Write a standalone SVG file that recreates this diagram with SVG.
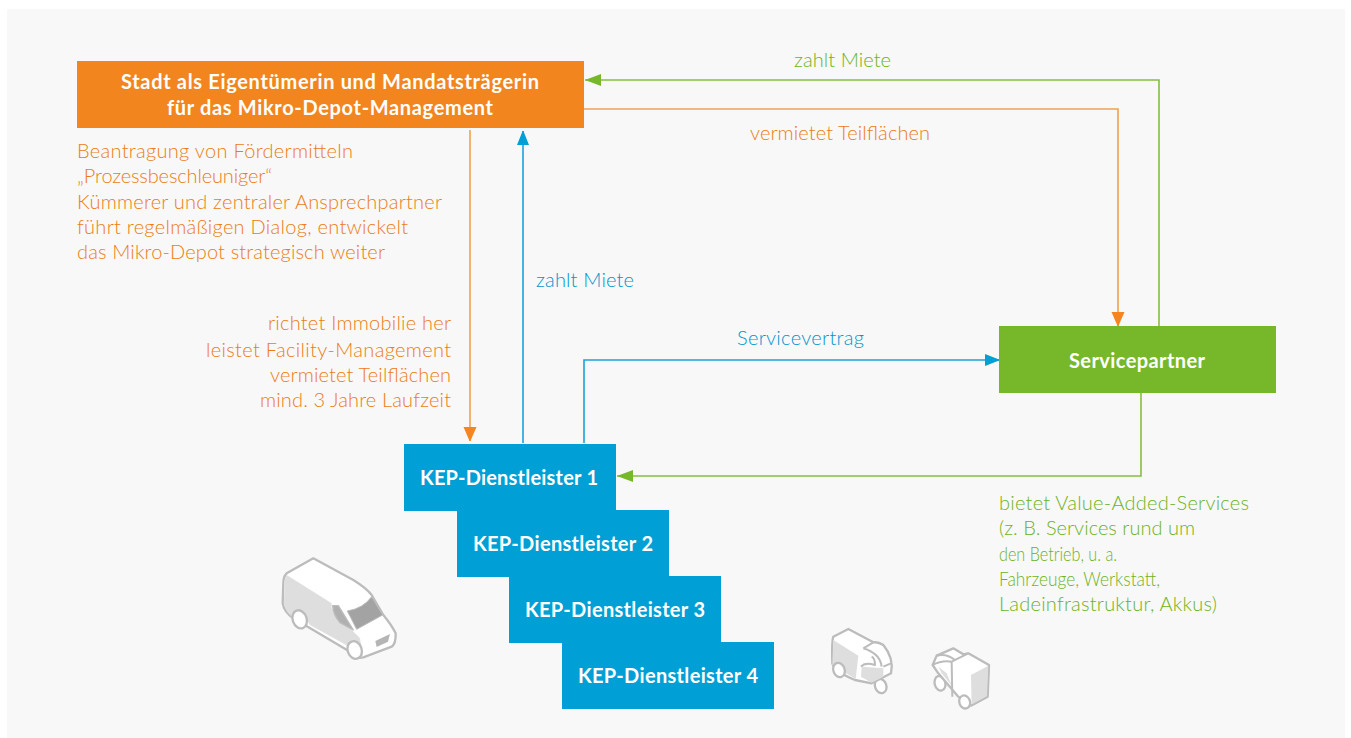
<svg xmlns="http://www.w3.org/2000/svg" width="1351" height="738" viewBox="0 0 1351 738">
<style>
text{font-family:"Lato","Open Sans","Liberation Sans",sans-serif;font-size:20px;font-weight:300}
text.h{fill:#fff;font-weight:700;text-anchor:middle}
.o{fill:#ec7c14}.b{fill:#0095cf}.g{fill:#6db320}
.conn{fill:none;stroke-width:1.6}
.co{stroke:#f2a050}.cb{stroke:#1ba3d6}.cg{stroke:#84bf41}
.w{fill:#fff}.l{fill:#dedede}.d{fill:#a3a3a3}
.s{stroke:#bcbcbc;stroke-width:7;stroke-linejoin:round}
.n{fill:none;stroke:#bcbcbc;stroke-width:6;stroke-linejoin:round}
</style>
<defs>
<marker id="ao" markerUnits="userSpaceOnUse" markerWidth="14" markerHeight="18" refX="14" refY="6.5" orient="auto"><path d="M0 0L15 6.5L0 13Z" fill="#f5851f"/></marker>
<marker id="ab" markerUnits="userSpaceOnUse" markerWidth="14" markerHeight="18" refX="14" refY="6" orient="auto"><path d="M0 0L15 6L0 12Z" fill="#009fd6"/></marker>
<marker id="ag" markerUnits="userSpaceOnUse" markerWidth="16" markerHeight="18" refX="16" refY="6" orient="auto"><path d="M0 0L16 6L0 12Z" fill="#76b82a"/></marker>
</defs>
<rect width="1351" height="738" fill="#fff"/>
<rect x="7" y="9" width="1338" height="729" fill="#f8f8f8"/>
<g id="connectors" class="conn">
<path class="co" d="M584 109H1118V326" marker-end="url(#ao)"/>
<path class="cg" d="M1159 326V80H585" marker-end="url(#ag)"/>
<path class="co" d="M470 130V441" marker-end="url(#ao)"/>
<path class="cb" d="M523 443V131" marker-end="url(#ab)"/>
<path class="cb" d="M584 443V360H999" marker-end="url(#ab)"/>
<path class="cg" d="M1141 393V476H617" marker-end="url(#ag)"/>
</g>
<g id="stadt"><rect x="77" y="61" width="507" height="67" fill="#f2851e"/>
<text class="h" x="330" y="89" textLength="418">Stadt als Eigentümerin und Mandatsträgerin</text>
<text class="h" x="330" y="115" textLength="326">für das Mikro-Depot-Management</text></g>
<g id="servicepartner"><rect x="999" y="326" width="277" height="67" fill="#76b82a"/>
<text class="h" x="1137" y="368" textLength="136">Servicepartner</text></g>
<g id="kep4"><rect x="562" y="642" width="212" height="67" fill="#009fd6"/><text class="h" x="668" y="683" textLength="180">KEP-Dienstleister 4</text></g>
<g id="kep3"><rect x="509" y="576" width="212" height="67" fill="#009fd6"/><text class="h" x="615" y="617" textLength="180">KEP-Dienstleister 3</text></g>
<g id="kep2"><rect x="457" y="510" width="212" height="67" fill="#009fd6"/><text class="h" x="563" y="551" textLength="180">KEP-Dienstleister 2</text></g>
<g id="kep1"><rect x="404" y="444" width="212" height="67" fill="#009fd6"/><text class="h" x="509" y="485" textLength="178">KEP-Dienstleister 1</text></g>
<g id="labels">
<text class="g" x="794" y="67" textLength="97">zahlt Miete</text>
<text class="o" x="750" y="140" textLength="180">vermietet Teilflächen</text>
<text class="b" x="536" y="287" textLength="98">zahlt Miete</text>
<text class="b" x="737" y="345" textLength="127">Servicevertrag</text>
<text class="o" x="77" y="158" textLength="276">Beantragung von Fördermitteln</text>
<text class="o" x="77" y="183" textLength="195">„Prozessbeschleuniger“</text>
<text class="o" x="77" y="209" textLength="365">Kümmerer und zentraler Ansprechpartner</text>
<text class="o" x="77" y="234" textLength="331">führt regelmäßigen Dialog, entwickelt</text>
<text class="o" x="77" y="259" textLength="308">das Mikro-Depot strategisch weiter</text>
<text class="o" x="268" y="330" textLength="183">richtet Immobilie her</text>
<text class="o" x="206" y="357" textLength="245">leistet Facility-Management</text>
<text class="o" x="270" y="382" textLength="181">vermietet Teilflächen</text>
<text class="o" x="260" y="407" textLength="191">mind. 3 Jahre Laufzeit</text>
<text class="g" x="999" y="510" textLength="250">bietet Value-Added-Services</text>
<text class="g" x="999" y="535" textLength="196">(z. B. Services rund um</text>
<text class="g" x="999" y="561" textLength="118" lengthAdjust="spacingAndGlyphs">den Betrieb, u. a.</text>
<text class="g" x="999" y="586" textLength="161" lengthAdjust="spacingAndGlyphs">Fahrzeuge, Werkstatt,</text>
<text class="g" x="999" y="611" textLength="218">Ladeinfrastruktur, Akkus)</text>
</g>
<g id="van" transform="translate(260 540) scale(.3333)">
<path class="w s" d="M160 55L80 100Q70 110 70 130L68 190Q72 215 100 235L270 335Q285 358 310 352L395 320Q408 312 407 280Q395 255 370 225L335 165Q320 145 280 120Z"/>
<path class="l" d="M80 105L215 190L215 205L285 280L300 295L308 348Q285 352 268 320L150 255Q125 210 100 215Q95 225 97 232Q75 213 72 190L74 120Z"/>
<path class="d s" style="stroke-width:3" d="M335 170L368 225L290 268L262 213Q310 205 335 170Z"/>
<path class="s" style="stroke-width:4;fill:#b0b0b0" d="M218 197L235 197L280 270L240 248Q220 225 218 197Z"/>
<path d="M346 303L390 282L384 305L350 321Z" fill="#b5b5b5"/>
<ellipse class="w s" cx="119" cy="238" rx="21" ry="28" transform="rotate(-20 119 238)"/>
<ellipse class="w s" cx="284" cy="330" rx="21" ry="27" transform="rotate(-20 284 330)"/>
</g>
<g id="trike1" transform="translate(815 615) scale(.3333)">
<ellipse class="w s" cx="197" cy="213" rx="17" ry="22" transform="rotate(-20 197 213)"/>
<path class="w s" d="M100 42L55 65Q50 80 52 145Q60 170 120 195L170 205L228 175Q238 130 205 90Q190 80 175 82Z"/>
<path class="l" d="M55 75L130 122L122 192L52 150Z"/>
<path class="l" d="M140 155L205 160L205 185L170 203L138 185Z"/>
<path class="n" d="M145 100L175 82M145 100Q195 115 200 155M205 155L228 145M138 155Q150 140 180 150Q180 130 170 125"/>
<ellipse class="w s" cx="72" cy="165" rx="17" ry="22" transform="rotate(-20 72 165)"/>
</g>
<g id="trike2" transform="translate(815 615) scale(.3333)">
<ellipse class="w s" cx="375" cy="205" rx="16" ry="22" transform="rotate(-15 375 205)"/>
<path class="w s" d="M415 100L365 122L353 150L370 175L430 245L468 272L518 245L522 150L460 115L445 118Z"/>
<path class="l" d="M468 180L520 152L516 243L470 268Z"/>
<path class="l" d="M370 155L395 175L412 215L380 175Z"/>
<path class="n" d="M353 150Q380 135 410 140L412 245M410 140L460 115M365 122Q395 115 420 135"/>
<ellipse class="w s" cx="449" cy="261" rx="16" ry="20" transform="rotate(-20 449 261)"/>
</g>
</svg>
